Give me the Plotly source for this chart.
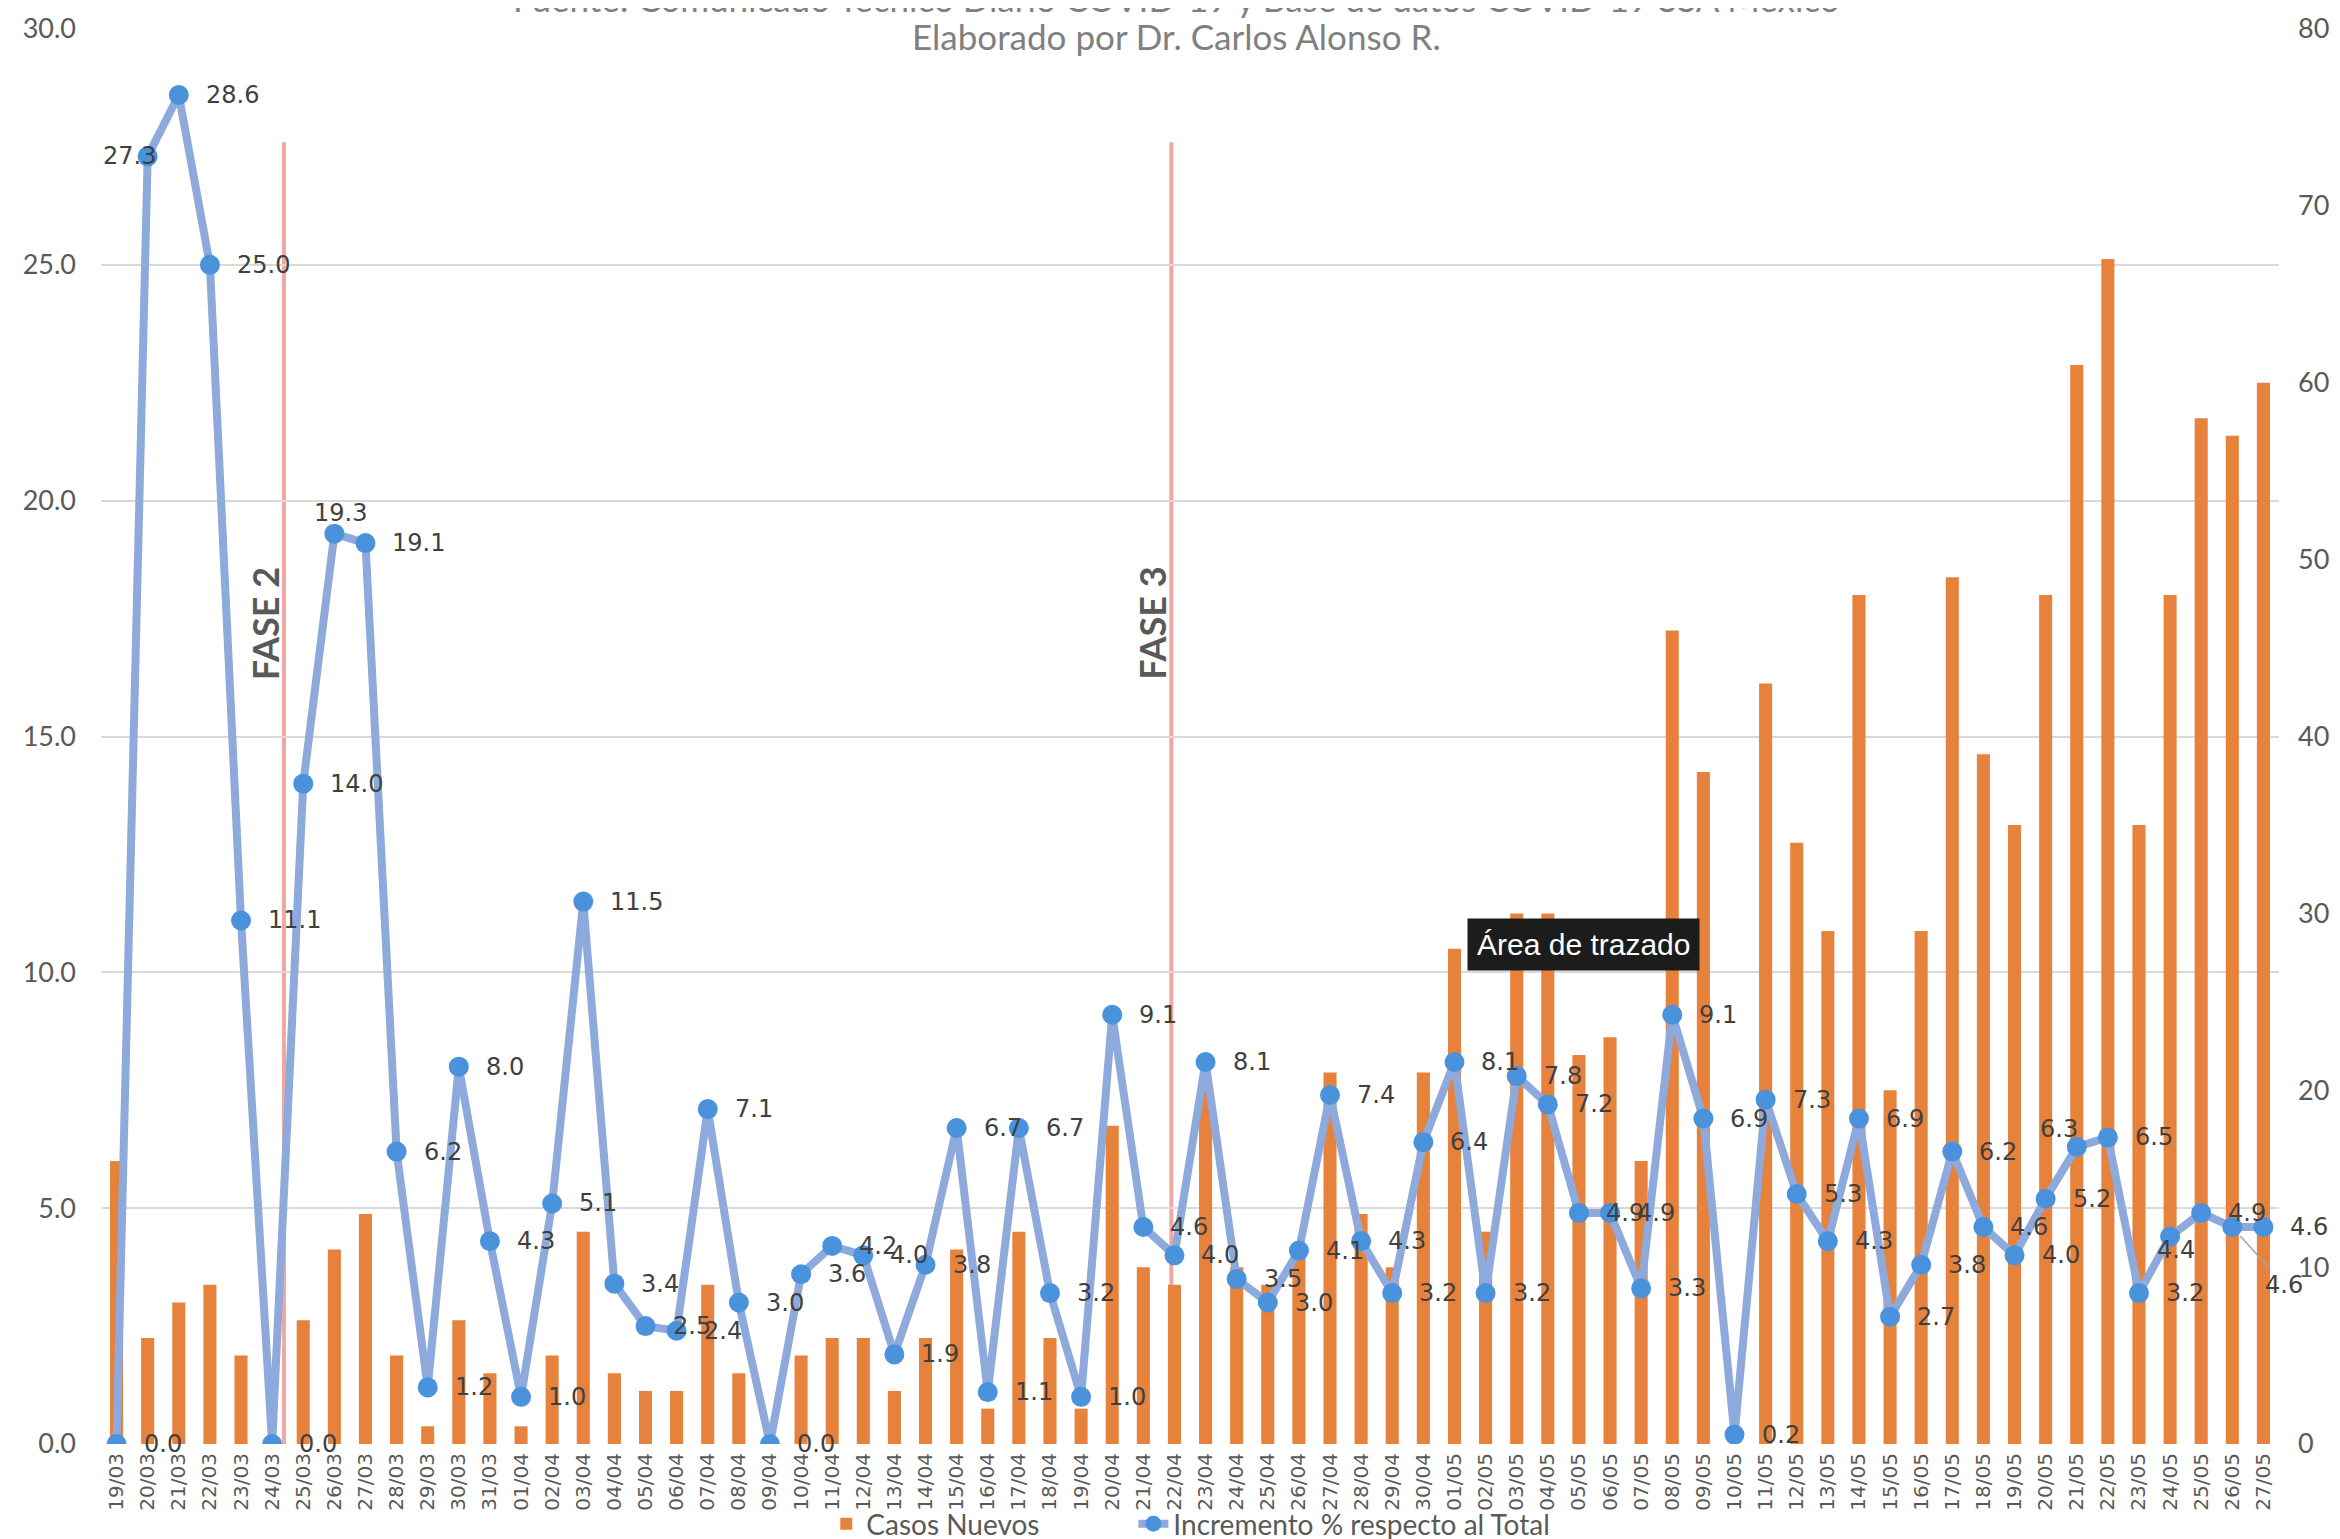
import plotly.graph_objects as go

fechas = [
    "19/03", "20/03", "21/03", "22/03", "23/03", "24/03", "25/03", "26/03", "27/03", "28/03",
    "29/03", "30/03", "31/03", "01/04", "02/04", "03/04", "04/04", "05/04", "06/04", "07/04",
    "08/04", "09/04", "10/04", "11/04", "12/04", "13/04", "14/04", "15/04", "16/04", "17/04",
    "18/04", "19/04", "20/04", "21/04", "22/04", "23/04", "24/04", "25/04", "26/04", "27/04",
    "28/04", "29/04", "30/04", "01/05", "02/05", "03/05", "04/05", "05/05", "06/05", "07/05",
    "08/05", "09/05", "10/05", "11/05", "12/05", "13/05", "14/05", "15/05", "16/05", "17/05",
    "18/05", "19/05", "20/05", "21/05", "22/05", "23/05", "24/05", "25/05", "26/05", "27/05",
]

casos_nuevos = [
    16, 6, 8, 9, 5, 0, 7, 11, 13, 5,
    1, 7, 4, 1, 5, 12, 4, 3, 3, 9,
    4, 0, 5, 6, 6, 3, 6, 11, 2, 12,
    6, 2, 18, 10, 9, 20, 10, 9, 11, 21,
    13, 10, 21, 28, 12, 30, 30, 22, 23, 16,
    46, 38, 0, 43, 34, 29, 48, 20, 29, 49,
    39, 35, 48, 61, 67, 35, 48, 58, 57, 60,
]

incremento = [
    0.0, 27.3, 28.6, 25.0, 11.1, 0.0, 14.0, 19.3, 19.1, 6.2,
    1.2, 8.0, 4.3, 1.0, 5.1, 11.5, 3.4, 2.5, 2.4, 7.1,
    3.0, 0.0, 3.6, 4.2, 4.0, 1.9, 3.8, 6.7, 1.1, 6.7,
    3.2, 1.0, 9.1, 4.6, 4.0, 8.1, 3.5, 3.0, 4.1, 7.4,
    4.3, 3.2, 6.4, 8.1, 3.2, 7.8, 7.2, 4.9, 4.9, 3.3,
    9.1, 6.9, 0.2, 7.3, 5.3, 4.3, 6.9, 2.7, 3.8, 6.2,
    4.6, 4.0, 5.2, 6.3, 6.5, 3.2, 4.4, 4.9, 4.6, 4.6,
]

fases = ["FASE 2", "FASE 3"]
fase_fechas = ["24/03", "22/04"]

titulo_1 = "Fuente: Comunicado Técnico Diario COVID-19 y Base de datos COVID-19 SSA México"
titulo_2 = "Elaborado por Dr. Carlos Alonso R."

GRAY = "#595959"
LABEL = "#404040"

fig = go.Figure()
fig.add_trace(go.Bar(
    x=fechas, y=casos_nuevos, name="Casos Nuevos",
    marker=dict(color="#E6823C", line=dict(width=0)),
    width=0.42, yaxis="y", legend="legend",
))
fig.add_trace(go.Scatter(
    x=fechas, y=incremento, name="Incremento % respecto al Total",
    mode="lines+markers",
    line=dict(color="#8EA9DB", width=8),
    marker=dict(size=20, color="#4A93DC"),
    yaxis="y2", legend="legend2",
))

annotations = []
special = {
    1: dict(xanchor="center", xshift=-18, yshift=0),
    7: dict(xanchor="center", xshift=6, yshift=21),
    63: dict(xanchor="center", xshift=-18, yshift=18),
    66: dict(xanchor="center", xshift=6, yshift=-14),
}
for i, (f, v) in enumerate(zip(fechas, incremento)):
    base = dict(x=f, y=v, xref="x", yref="y2", text=f"{v:.1f}",
                font=dict(family="DejaVu Sans", size=24, color=LABEL))
    if i == 68:
        base.update(showarrow=True, arrowhead=0, arrowwidth=1.5, arrowcolor="#a6a6a6",
                    ax=52, ay=58, standoff=12, xanchor="center", yanchor="middle")
    elif i in special:
        base.update(showarrow=False, yanchor="middle", **special[i])
    else:
        base.update(showarrow=False, xanchor="left", yanchor="middle", xshift=25, yshift=0)
    annotations.append(base)

shapes = []
fase_offsets = [0.38, -0.1]
for nombre, ff, off in zip(fases, fase_fechas, fase_offsets):
    xi = fechas.index(ff) + off
    shapes.append(dict(type="line", xref="x", yref="y2", x0=xi, x1=xi, y0=0, y1=27.6,
                       line=dict(color="#F2A6A0", width=4), layer="below"))
    annotations.append(dict(x=xi, y=17.4, xref="x", yref="y2", text=f"<b>{nombre}</b>",
                            textangle=-90, showarrow=False, xshift=-19,
                            font=dict(family="Lato", size=36, color=GRAY)))

annotations.append(dict(x=0.494, y=1.022, xref="paper", yref="paper", text=titulo_1,
                        showarrow=False, xanchor="center", yanchor="middle",
                        font=dict(family="Lato", size=35, color="#808080")))
annotations.append(dict(x=0.494, y=0.995, xref="paper", yref="paper", text=titulo_2,
                        showarrow=False, xanchor="center", yanchor="middle",
                        font=dict(family="Lato", size=35, color="#808080")))
annotations.append(dict(x=47.15, y=10.6, xref="x", yref="y2", text="Área de trazado",
                        showarrow=False, xanchor="center", yanchor="middle",
                        bgcolor="#1c1c1c", borderpad=9,
                        font=dict(family="Liberation Sans", size=30, color="white")))

legend_common = dict(orientation="h", xanchor="left", y=-0.0565, yanchor="middle",
                     font=dict(family="Lato", size=28, color=GRAY), bgcolor="rgba(0,0,0,0)")

fig.update_layout(
    width=2340, height=1539, autosize=False,
    template="none",
    paper_bgcolor="white", plot_bgcolor="white",
    margin=dict(l=93, r=69, t=21, b=103, autoexpand=False),
    showlegend=True,
    legend=dict(x=0.333, **legend_common),
    legend2=dict(x=0.474, **legend_common),
    xaxis=dict(type="category", range=[-0.5, 69.5], tickangle=-90,
               tickfont=dict(family="DejaVu Sans", size=20, color=GRAY),
               showgrid=False, showline=False, zeroline=False, ticks="",
               ticklabelstandoff=4, automargin=False),
    yaxis=dict(range=[0, 80], side="right", tickvals=list(range(0, 81, 10)),
               showgrid=False, zeroline=False, showline=False, ticks="",
               tickfont=dict(family="Lato", size=27, color=GRAY),
               ticklabelstandoff=18, automargin=False),
    yaxis2=dict(range=[0, 30], side="left", overlaying="y", tickvals=list(range(0, 31, 5)),
                tickformat=".1f", showgrid=True, gridcolor="#d9d9d9", gridwidth=2,
                zeroline=False, showline=False, ticks="",
                tickfont=dict(family="Lato", size=27, color=GRAY),
                ticklabelstandoff=24, automargin=False),
    annotations=annotations,
    shapes=shapes,
)

fig.write_html("out.html")
